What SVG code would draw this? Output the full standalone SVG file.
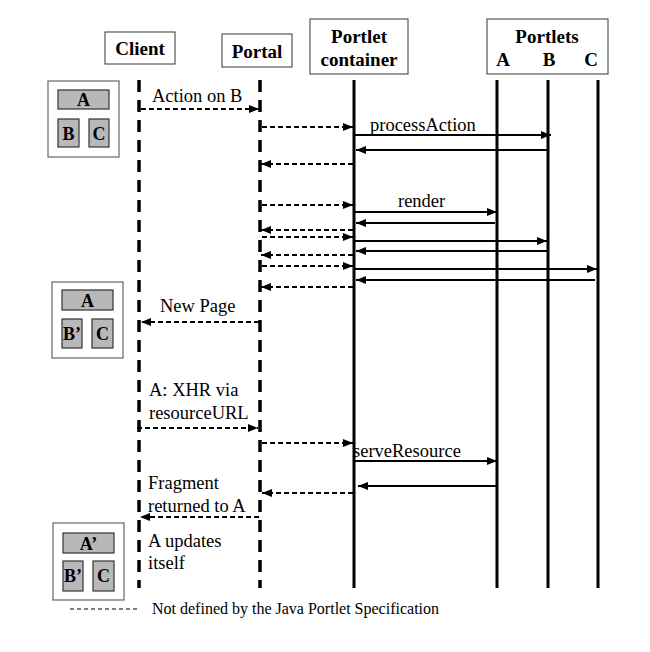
<svg xmlns="http://www.w3.org/2000/svg" width="650" height="652" viewBox="0 0 650 652">
<style>
.hdr{font-family:"Liberation Serif",serif;font-weight:bold;font-size:19px;fill:#000;text-anchor:middle}
.lbl{font-family:"Liberation Serif",serif;font-size:18.5px;fill:#000}
.mini{font-family:"Liberation Serif",serif;font-weight:bold;font-size:18px;fill:#000;text-anchor:middle}
.box{fill:#fff;stroke:#555;stroke-width:1.2}
.page{fill:#fff;stroke:#666;stroke-width:1.2}
.cell{fill:#b8b8b8;stroke:#333;stroke-width:1.2}
.ll{stroke:#000;stroke-width:3;fill:none}
.lld{stroke:#000;stroke-width:3.5;fill:none;stroke-dasharray:12 8}
.sol{stroke:#000;stroke-width:2;fill:none}
.dsh{stroke:#000;stroke-width:1.8;fill:none;stroke-dasharray:5 3}
</style>
<defs>
<marker id="ah" markerUnits="userSpaceOnUse" markerWidth="10" markerHeight="10" refX="10" refY="5" orient="auto">
<path d="M0,1 L10,5 L0,9 z" fill="#000"/>
</marker>
</defs>
<rect width="650" height="652" fill="#fff"/>
<g id="client"><rect class="box" x="105" y="32" width="70" height="32"/><text class="hdr" x="140" y="55">Client</text></g>
<g id="portal"><rect class="box" x="222" y="34" width="70" height="33"/><text class="hdr" x="257" y="58">Portal</text></g>
<g id="container"><rect class="box" x="310" y="19" width="98" height="55"/><text class="hdr" x="359" y="43">Portlet</text><text class="hdr" x="359" y="66">container</text></g>
<g id="portlets"><rect class="box" x="487" y="19" width="121" height="55"/><text class="hdr" x="547" y="43">Portlets</text><text class="hdr" x="503" y="66">A</text><text class="hdr" x="549" y="66">B</text><text class="hdr" x="591" y="66">C</text></g>
<g id="lifelines">
<line class="lld" x1="139" y1="80" x2="139" y2="588"/>
<line class="lld" x1="260" y1="80" x2="260" y2="588"/>
<line class="ll" x1="354" y1="80" x2="354" y2="588"/>
<line class="ll" x1="497" y1="80" x2="497" y2="588"/>
<line class="ll" x1="548" y1="80" x2="548" y2="588"/>
<line class="ll" x1="598" y1="80" x2="598" y2="588"/>
</g>
<g id="page1"><rect class="page" x="48" y="81" width="71" height="76"/><rect class="cell" x="58" y="90" width="51" height="19"/><text class="mini" x="83.5" y="106">A</text><rect class="cell" x="58" y="119" width="21" height="28"/><text class="mini" x="68.5" y="140">B</text><rect class="cell" x="89" y="119" width="20" height="28"/><text class="mini" x="99" y="140">C</text></g>
<g id="page2"><rect class="page" x="52" y="282" width="71" height="76"/><rect class="cell" x="62" y="290" width="51" height="20"/><text class="mini" x="87.5" y="307">A</text><rect class="cell" x="62" y="319" width="20" height="29"/><text class="mini" x="72" y="340">B’</text><rect class="cell" x="92" y="319" width="21" height="29"/><text class="mini" x="102.5" y="340">C</text></g>
<g id="page3"><rect class="page" x="53" y="523" width="71" height="77"/><rect class="cell" x="63" y="533" width="51" height="20"/><text class="mini" x="88.5" y="550">A’</text><rect class="cell" x="63" y="561" width="20" height="30"/><text class="mini" x="73" y="582">B’</text><rect class="cell" x="93" y="561" width="21" height="30"/><text class="mini" x="103.5" y="582">C</text></g>
<g id="connectors">
<line class="dsh" x1="141" y1="109" x2="259" y2="109" marker-end="url(#ah)"/>
<line class="dsh" x1="262" y1="127" x2="353" y2="127" marker-end="url(#ah)"/>
<line class="sol" x1="355" y1="135" x2="551" y2="135" marker-end="url(#ah)"/>
<line class="sol" x1="548" y1="150" x2="356" y2="150" marker-end="url(#ah)"/>
<line class="dsh" x1="353" y1="164" x2="261" y2="164" marker-end="url(#ah)"/>
<line class="dsh" x1="262" y1="205" x2="353" y2="205" marker-end="url(#ah)"/>
<line class="sol" x1="355" y1="212" x2="497" y2="212" marker-end="url(#ah)"/>
<line class="sol" x1="495" y1="223" x2="356" y2="223" marker-end="url(#ah)"/>
<line class="dsh" x1="353" y1="230" x2="261" y2="230" marker-end="url(#ah)"/>
<line class="dsh" x1="262" y1="237" x2="353" y2="237" marker-end="url(#ah)"/>
<line class="sol" x1="355" y1="241" x2="547" y2="241" marker-end="url(#ah)"/>
<line class="sol" x1="547" y1="251" x2="356" y2="251" marker-end="url(#ah)"/>
<line class="dsh" x1="353" y1="255" x2="261" y2="255" marker-end="url(#ah)"/>
<line class="dsh" x1="262" y1="266" x2="353" y2="266" marker-end="url(#ah)"/>
<line class="sol" x1="355" y1="269" x2="597" y2="269" marker-end="url(#ah)"/>
<line class="sol" x1="595" y1="280" x2="356" y2="280" marker-end="url(#ah)"/>
<line class="dsh" x1="353" y1="287" x2="261" y2="287" marker-end="url(#ah)"/>
<line class="dsh" x1="259" y1="322" x2="141" y2="322" marker-end="url(#ah)"/>
<line class="dsh" x1="137" y1="428" x2="258" y2="428" marker-end="url(#ah)"/>
<line class="dsh" x1="262" y1="443" x2="353" y2="443" marker-end="url(#ah)"/>
<line class="sol" x1="355" y1="461" x2="497" y2="461" marker-end="url(#ah)"/>
<line class="sol" x1="497" y1="486" x2="358" y2="486" marker-end="url(#ah)"/>
<line class="dsh" x1="353" y1="493" x2="262" y2="493" marker-end="url(#ah)"/>
<line class="dsh" x1="259" y1="517" x2="140" y2="517" marker-end="url(#ah)"/>
</g>
<g id="labels">
<text class="lbl" x="152" y="102">Action on B</text>
<text class="lbl" x="370" y="131">processAction</text>
<text class="lbl" x="398" y="207">render</text>
<text class="lbl" x="160" y="312">New Page</text>
<text class="lbl" x="149" y="396">A: XHR via</text>
<text class="lbl" x="149" y="419">resourceURL</text>
<text class="lbl" x="353" y="457">serveResource</text>
<text class="lbl" x="148" y="489">Fragment</text>
<text class="lbl" x="148" y="512">returned to A</text>
<text class="lbl" x="148" y="547">A updates</text>
<text class="lbl" x="148" y="569">itself</text>
</g>
<g id="legend">
<line x1="70" y1="609" x2="140" y2="609" stroke="#000" stroke-width="1.2" stroke-dasharray="4 3"/>
<text class="lbl" x="152" y="614" style="font-size:16px">Not defined by the Java Portlet Specification</text>
</g>
</svg>
